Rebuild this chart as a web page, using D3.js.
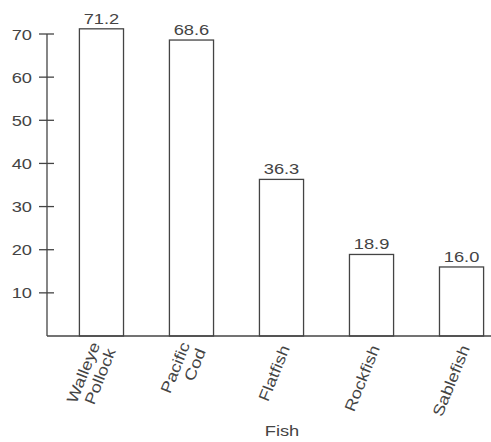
<!DOCTYPE html>
<html><head><meta charset="utf-8">
<script src="https://cdn.jsdelivr.net/npm/d3@7"></script>
<style>html,body{margin:0;padding:0;background:#fff;}svg{display:block;}</style>
</head><body>
<script>
const categories = [["Walleye","Pollock"],["Pacific","Cod"],["Flatfish"],["Rockfish"],["Sablefish"]];
const values = [71.2, 68.6, 36.3, 18.9, 16.0];
const valueLabels = ["71.2","68.6","36.3","18.9","16.0"];
const yTicks = [10,20,30,40,50,60,70];
const xTitle = "Fish";

const W = 491, H = 442;
const ink = "#444";
const font = "'Liberation Sans', Arial, sans-serif";
const FS = 15.5, SX = 1.18; // font size, horizontal stretch of the scanned type
const svg = d3.select("body").append("svg").attr("width", W).attr("height", H);

const axisX = 47, baseY = 336, topY = 34;
const y = d3.scaleLinear().domain([0, 70]).range([baseY, topY]);
const keys = categories.map(c => c.join(" "));
const x = d3.scaleBand().domain(keys).range([axisX, 516]).paddingInner(0.51).paddingOuter(0.36).align(0.5);

function label(g, px, py, rot, anchor) {
  return g.append("text")
    .attr("transform", `translate(${px},${py}) rotate(${rot}) scale(${SX},1)`)
    .attr("text-anchor", anchor)
    .attr("font-family", font).attr("font-size", FS).attr("fill", ink);
}

// bars
svg.selectAll("rect.bar").data(values).join("rect")
  .attr("x", (d,i) => x(keys[i]))
  .attr("y", d => y(d))
  .attr("width", x.bandwidth())
  .attr("height", d => y(0) - y(d))
  .attr("fill", "#fff").attr("stroke", ink).attr("stroke-width", 1.3);

// value labels
values.forEach((d, i) => {
  label(svg, x(keys[i]) + x.bandwidth()/2, y(d) - 5, 0, "middle").text(valueLabels[i]);
});

// y axis ticks and labels
yTicks.forEach(t => {
  svg.append("line").attr("x1", axisX - 8).attr("x2", axisX + 7).attr("y1", y(t)).attr("y2", y(t))
    .attr("stroke", ink).attr("stroke-width", 1.3);
  label(svg, axisX - 15, y(t), 0, "end").attr("dy", "0.36em").text(t);
});
svg.append("line").attr("x1", axisX).attr("x2", axisX).attr("y1", y(70)).attr("y2", y(0))
  .attr("stroke", ink).attr("stroke-width", 1.3);

// baseline
svg.append("line").attr("x1", axisX).attr("x2", 491).attr("y1", y(0)).attr("y2", y(0))
  .attr("stroke", ink).attr("stroke-width", 1.3);

// x labels
const lineH = 17;
categories.forEach((lines, i) => {
  const cx = x(keys[i]) + x.bandwidth()/2;
  const t = label(svg, cx + (lines.length > 1 ? 2 : 4), baseY + 10, -68, "end");
  lines.forEach((ln, j) => {
    t.append("tspan").attr("x", 0).attr("y", (j - (lines.length - 1)/2) * lineH + 5).text(ln);
  });
});

// x title
label(svg, 282, 436, 0, "middle").text(xTitle);
</script>
</body></html>
